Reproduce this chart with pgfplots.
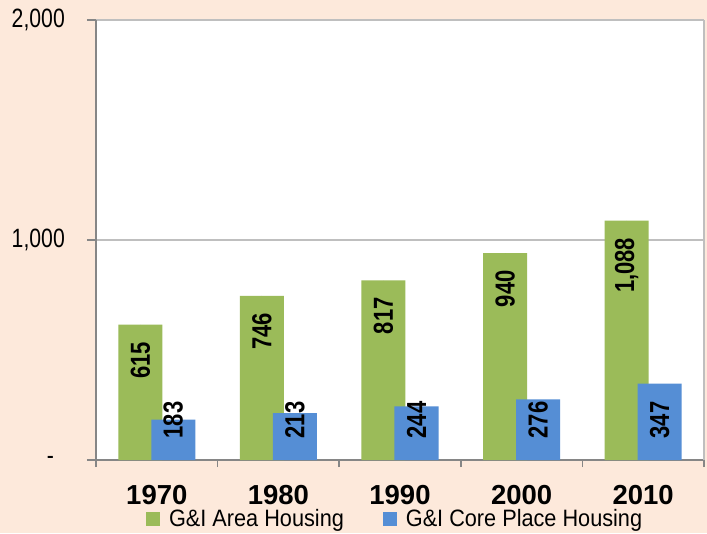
\documentclass[border=0pt]{standalone}
\usepackage{fontspec}
\setmainfont{Liberation Sans}
\newfontfamily\tickfont{Liberation Sans}[FakeStretch=0.8]
\newfontfamily\valfont{Liberation Sans}[FakeStretch=0.80]
\newfontfamily\legfont{Liberation Sans}[FakeStretch=0.915]
\usepackage{pgfplots}
\pgfplotsset{compat=1.18}
\usepackage{pgfplotstable}
\definecolor{bgpeach}{RGB}{253,233,219}
\definecolor{greenbar}{RGB}{155,187,89}
\definecolor{bluebar}{RGB}{85,142,213}
\definecolor{axisgray}{RGB}{134,134,134}
\definecolor{gridgray}{RGB}{191,191,191}
\pgfplotstableread{
x year area core
0 1970 615 183
1 1980 746 213
2 1990 817 244
3 2000 940 276
4 2010 1088 347
}\datatable
\begin{document}
\begin{tikzpicture}
\fill[bgpeach] (-96pt,-73pt) rectangle (611pt,460pt);
\useasboundingbox (-96pt,-73pt) rectangle (611pt,460pt);
\begin{axis}[
  at={(0pt,0pt)}, anchor=south west,
  scale only axis, width=608pt, height=440pt,
  xmin=-0.5, xmax=4.5, ymin=0, ymax=2000,
  axis background/.style={fill=white},
  axis x line*=bottom, axis y line*=left,
  axis line style={draw=axisgray, line width=1.5pt},
  tick align=outside, major tick length=9pt,
  ytick={0,1000,2000},
  yticklabels={{\makebox[18pt][l]{-}},{1,000},{2,000}},
  yticklabel style={font=\tickfont\fontsize{26.5pt}{30pt}\selectfont, inner sep=0pt, xshift=-22pt},
  ytick style={draw=axisgray, line width=1.5pt},
  ymajorgrids, grid style={draw=gridgray, line width=1.2pt},
  xtick={0,1,2,3,4},
  xticklabels={1970,1980,1990,2000,2010},
  xtick style={draw=none},
  xticklabel style={font=\bfseries\fontsize{27.5pt}{30pt}\selectfont, inner sep=0pt, yshift=-16pt},
  extra x ticks={-0.5,0.5,1.5,2.5,3.5,4.5},
  extra x tick labels={},
  extra x tick style={grid=none, major tick length=7pt, xtick style={draw=axisgray, line width=1.5pt}},
  /pgf/number format/assume math mode=true,
  legend style={at={(0.492,-0.134)}, anchor=center, draw=none, fill=none,
    font=\legfont\fontsize{23.7pt}{26pt}\selectfont, inner sep=0pt,
    /tikz/every odd column/.append style={column sep=7pt},
    /tikz/every even column/.append style={column sep=37pt}},
  legend columns=2,
  after end axis/.code={\draw[gridgray, line width=1.2pt] (rel axis cs:1,0) -- (rel axis cs:1,1);},
]
\addplot[ybar, bar width=44pt, bar shift=-16.5pt, fill=greenbar, draw=none,
  legend image code/.code={\fill[greenbar] (0pt,-7pt) rectangle (14pt,7pt);}]
  table[x=x, y=area]{\datatable};
\addlegendentry{G\&I Area Housing}
\addplot[ybar, bar width=44pt, bar shift=16.5pt, fill=bluebar, draw=none,
  legend image code/.code={\fill[bluebar] (0pt,-7pt) rectangle (14pt,7pt);}]
  table[x=x, y=core]{\datatable};
\addlegendentry{G\&I Core Place Housing}
\addplot[forget plot, only marks, mark=*, mark size=0pt, mark options={draw=none, fill=none},
  nodes near coords, point meta=explicit,
  every node near coord/.style={font=\valfont\bfseries\fontsize{27.5pt}{30pt}\selectfont, inner sep=0pt, yshift=-17pt, rotate=90, anchor=east}]
  table[x expr=\thisrow{x}-0.1357, y=area, meta=area]{\datatable};
\addplot[forget plot, only marks, mark=*, mark size=0pt, mark options={draw=none, fill=none},
  nodes near coords, point meta=explicit,
  every node near coord/.style={font=\valfont\bfseries\fontsize{27.5pt}{30pt}\selectfont, inner sep=0pt, rotate=90, anchor=center}]
  table[x expr=\thisrow{x}+0.1357, y expr=182, meta=core]{\datatable};
\end{axis}
\end{tikzpicture}
\end{document}
